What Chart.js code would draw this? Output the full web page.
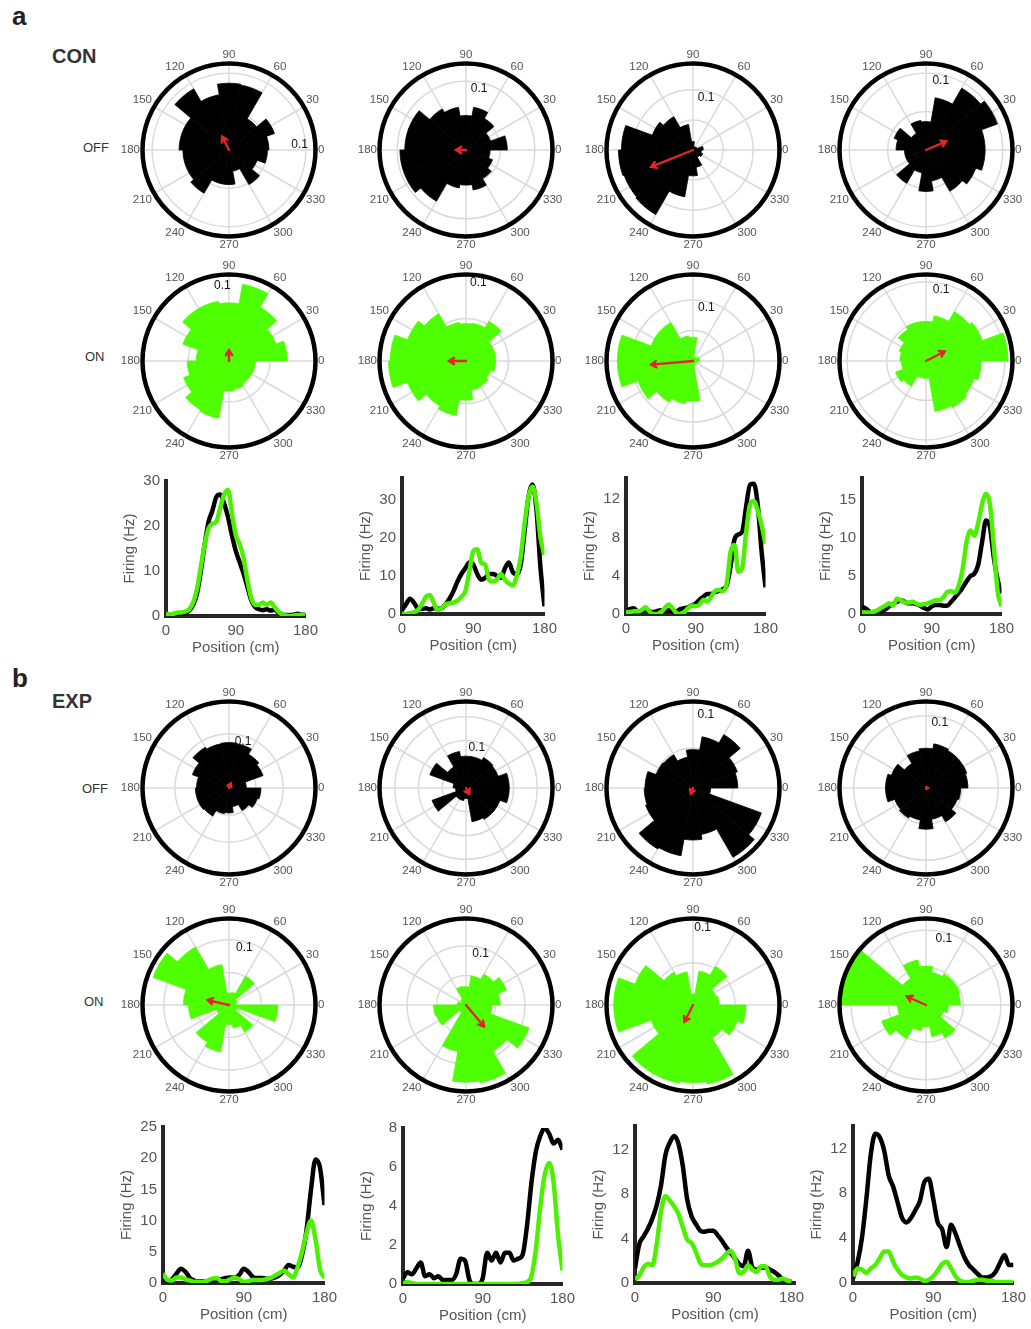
<!DOCTYPE html>
<html>
<head>
<meta charset="utf-8">
<script src="https://cdn.jsdelivr.net/npm/chart.js@4.4.1/dist/chart.umd.min.js"></script>
<style>
  html, body { margin: 0; padding: 0; background: #fff; }
  #fig { position: relative; width: 1031px; height: 1329px; overflow: hidden; font-family: Arial, "Liberation Sans", sans-serif; }
  #fig canvas { position: absolute; }
  .lbl { position: absolute; white-space: nowrap; line-height: 1; }
  .panel { font-weight: bold; font-size: 26px; color: #222; }
  .group { font-weight: bold; font-size: 20px; color: #333; }
  .cond { font-size: 13px; color: #333; }
</style>
</head>
<body>
<div id="fig">
  <div class="lbl panel" style="left:12px; top:3px;">a</div>
  <div class="lbl group" style="left:52px; top:46px;">CON</div>
  <div class="lbl cond" style="left:83px; top:141px;">OFF</div>
  <div class="lbl cond" style="left:85px; top:350px;">ON</div>
  <div class="lbl panel" style="left:12px; top:665px;">b</div>
  <div class="lbl group" style="left:52px; top:691px;">EXP</div>
  <div class="lbl cond" style="left:82px; top:782px;">OFF</div>
  <div class="lbl cond" style="left:84px; top:995px;">ON</div>
</div>
<script>
  // ---- direction histograms: 18 bins of 20 deg, anticlockwise from 0 deg ----
  const angleTicks = [0, 30, 60, 90, 120, 150, 180, 210, 240, 270, 300, 330];

  const conOffRose1 = [0.052, 0.063, 0.047, 0.086, 0.087, 0.073, 0.092, 0.065, 0.065, 0.060, 0.060, 0.065, 0.045, 0.045, 0.028, 0.052, 0.039, 0.050];
  const conOffRose2 = [0.060, 0.038, 0.053, 0.063, 0.050, 0.063, 0.069, 0.089, 0.089, 0.096, 0.096, 0.086, 0.056, 0.051, 0.059, 0.048, 0.041, 0.035];
  const conOffRose3 = [0.017, 0.007, 0.006, 0.006, 0.014, 0.043, 0.064, 0.072, 0.119, 0.124, 0.122, 0.124, 0.079, 0.043, 0.029, 0.014, 0.017, 0.014];
  const conOffRose4 = [0.077, 0.099, 0.093, 0.069, 0.037, 0.039, 0.025, 0.044, 0.039, 0.028, 0.028, 0.050, 0.030, 0.054, 0.041, 0.062, 0.069, 0.077];

  const conOnRose1 = [0.071, 0.061, 0.076, 0.095, 0.071, 0.074, 0.074, 0.060, 0.040, 0.051, 0.059, 0.069, 0.071, 0.037, 0.035, 0.032, 0.032, 0.032];
  const conOnRose2 = [0.035, 0.035, 0.054, 0.045, 0.044, 0.046, 0.064, 0.073, 0.089, 0.091, 0.073, 0.061, 0.065, 0.046, 0.035, 0.034, 0.031, 0.035];
  const conOnRose3 = [0.011, 0.011, 0.007, 0.007, 0.039, 0.042, 0.073, 0.073, 0.124, 0.124, 0.096, 0.078, 0.071, 0.066, 0.007, 0.004, 0.004, 0.007];
  const conOnRose4 = [0.104, 0.076, 0.072, 0.058, 0.050, 0.050, 0.046, 0.036, 0.033, 0.031, 0.041, 0.037, 0.022, 0.022, 0.065, 0.068, 0.065, 0.070];

  const expOffRose1 = [0.032, 0.067, 0.072, 0.083, 0.084, 0.083, 0.087, 0.072, 0.060, 0.062, 0.062, 0.060, 0.048, 0.046, 0.035, 0.048, 0.056, 0.059];
  const expOffRose2 = [0.091, 0.072, 0.074, 0.067, 0.067, 0.078, 0.051, 0.081, 0.027, 0.022, 0.076, 0.027, 0.027, 0.022, 0.072, 0.076, 0.076, 0.091];
  const expOffRose3 = [0.056, 0.059, 0.077, 0.065, 0.048, 0.039, 0.048, 0.049, 0.060, 0.061, 0.063, 0.088, 0.086, 0.065, 0.059, 0.100, 0.091, 0.022];
  const expOffRose4 = [0.058, 0.060, 0.060, 0.062, 0.055, 0.052, 0.039, 0.051, 0.056, 0.056, 0.046, 0.048, 0.045, 0.057, 0.044, 0.054, 0.046, 0.048];

  const expOnRose1 = [0.011, 0.013, 0.051, 0.020, 0.018, 0.063, 0.103, 0.124, 0.070, 0.062, 0.020, 0.066, 0.073, 0.030, 0.036, 0.048, 0.013, 0.075];
  const expOnRose2 = [0.058, 0.073, 0.061, 0.050, 0.031, 0.032, 0.012, 0.009, 0.015, 0.055, 0.053, 0.015, 0.080, 0.131, 0.134, 0.091, 0.114, 0.044];
  const expOnRose3 = [0.031, 0.029, 0.053, 0.041, 0.013, 0.040, 0.045, 0.073, 0.094, 0.094, 0.053, 0.094, 0.094, 0.092, 0.095, 0.045, 0.056, 0.063];
  const expOnRose4 = [0.046, 0.048, 0.048, 0.044, 0.052, 0.061, 0.041, 0.113, 0.113, 0.038, 0.063, 0.052, 0.035, 0.029, 0.043, 0.051, 0.025, 0.030];

  // outer radius of each rose (r-axis limit)
  const conOffMax = [0.112, 0.125, 0.143, 0.112];
  const conOnMax = [0.105, 0.101, 0.141, 0.109];
  const expOffMax = [0.159, 0.181, 0.1075, 0.119];
  const expOnMax = [0.132, 0.146, 0.102, 0.115];

  // mean vector (red arrow): direction in deg, length in r units
  const conOffMeanDeg = [117, 180, 202, 23];
  const conOffMeanLen = [0.0195, 0.0145, 0.075, 0.0287];
  const conOnMeanDeg = [90, 180, 185, 27];
  const conOnMeanLen = [0.0134, 0.020, 0.069, 0.0266];
  const expOffMeanDeg = [70, 300, 250, 0];
  const expOffMeanLen = [0.0092, 0.0147, 0.0075, 0.0028];
  const expOnMeanDeg = [167, 310, 243, 156];
  const expOnMeanLen = [0.0338, 0.0475, 0.0225, 0.028];

  // where the "0.1" r-tick label sits
  const conOffLabelDeg = [4, 78, 76, 78];
  const conOnLabelDeg = [95, 81, 76, 78];
  const expOffLabelDeg = [73, 75, 80, 78];
  const expOnLabelDeg = [75, 74, 83, 75];

  // ---- firing rate along the track ----
  const positions = [0, 5, 10, 15, 20, 25, 30, 35, 40, 45, 50, 55, 60, 65, 70, 75, 80, 85, 90, 95, 100, 105, 110, 115, 120, 125, 130, 135, 140, 145, 150, 155, 160, 165, 170, 175, 180];
  const positionTicks = [0, 90, 180];

  const conOffRate1 = [0.2, 0.2, 0.3, 0.3, 0.4, 0.6, 1.2, 2.5, 5, 10, 16, 21, 23.5, 26.5, 27, 25, 22, 18, 14.5, 12, 9.5, 6.5, 3.5, 2, 1.5, 1.3, 1.5, 1.2, 1.4, 0.8, 0.3, 0.2, 0.2, 0.3, 0.5, 0.3, 0.3];
  const conOnRate1 = [0.5, 0.3, 0.5, 0.8, 0.8, 1, 1.5, 3, 6, 11, 16, 19.5, 20.5, 21, 24, 27, 28, 23, 18, 16, 13, 8, 4, 2.5, 2.5, 3, 2.5, 3, 2, 1, 0.3, 0.1, 0, 0.1, 0.2, 0.3, 0.2];
  const conOffRate2 = [1, 2.5, 4, 3, 1.5, 1.3, 1.5, 1.2, 1.5, 1.3, 1.5, 2.5, 4, 6, 8.5, 10.5, 12, 13.5, 13, 10.5, 9, 9.5, 10.5, 10.5, 10, 9.5, 12, 13.5, 11, 10.5, 13, 22, 31, 34, 27, 12, 2];
  const conOnRate2 = [0, 0, 0.2, 0.5, 1, 2.5, 4.5, 5, 3, 1, 1.5, 2.5, 2.8, 3, 3.5, 4.5, 6, 11, 16.5, 17, 13.5, 13, 9, 8.5, 9, 10.5, 9, 8, 7.5, 10, 15, 24, 31, 33.5, 29, 20, 15.5];
  const conOffRate3 = [0.3, 0.5, 0.6, 0.3, 0.3, 0.4, 0.3, 0.2, 0.3, 0.4, 0.3, 0.4, 0.3, 0.3, 0.5, 0.6, 0.7, 0.9, 1.1, 1.5, 1.8, 2.1, 2.1, 2.3, 2.4, 2.6, 3, 5, 7.8, 8.3, 8.6, 11.2, 13.5, 13.6, 11.4, 6.5, 2.8];
  const conOnRate3 = [0.2, 0.2, 0.3, 0.3, 0.4, 0.7, 0.3, 0, 0, 0.2, 0.6, 1, 0.6, 0.1, 0, 0.2, 0.6, 0.9, 0.8, 1, 1.5, 1.3, 1.8, 2.4, 2.5, 2.4, 3.2, 6.5, 7.2, 4.4, 4.8, 8.5, 11.4, 11.8, 10.8, 9.3, 7.3];
  const conOffRate4 = [1, 0.7, 0.3, 0.2, 0.2, 0.3, 0.6, 1, 1.3, 1.6, 1.8, 1.6, 1.4, 1.4, 1.3, 1.1, 0.8, 0.6, 1, 1.2, 1.2, 1.1, 1.1, 1.6, 2.2, 2.8, 3.5, 4.3, 5, 5.3, 6.5, 9.5, 12.3, 11.5, 7.5, 4.5, 2.7];
  const conOnRate4 = [0.2, 0.2, 0.2, 0.3, 0.5, 0.8, 1.1, 1.4, 1.1, 2, 1.8, 1.5, 1.5, 1.6, 1.4, 1.2, 1.3, 1.4, 1.6, 1.8, 1.8, 2.2, 2.9, 3, 2.8, 3.8, 6, 9.5, 11, 10.3, 12, 14.5, 15.8, 14.5, 9, 3, 1];

  const expOffRate1 = [0.5, 0.4, 0.6, 1.5, 2.3, 1.8, 0.8, 0.4, 0.3, 0.3, 0.3, 0.4, 0.5, 0.6, 0.8, 0.9, 0.9, 1.3, 2.3, 1.8, 1, 0.8, 0.8, 0.7, 0.7, 0.9, 1.3, 2, 2.9, 2.6, 2.5, 4.5, 8.5, 15, 19.8, 18.5, 12.5];
  const expOnRate1 = [1.5, 0.5, 0.4, 0.9, 0.9, 0.6, 0.4, 0.2, 0.2, 0.2, 0.4, 0.7, 0.8, 0.3, 0.3, 0.6, 0.9, 0.6, 0.2, 0.3, 0.5, 0.5, 0.5, 0.6, 0.8, 1.2, 1.6, 2, 1.4, 0.9, 2.5, 5, 8, 10, 7, 2.2, 0.8];
  const expOffRate2 = [0.3, 0.6, 0.5, 0.8, 1.1, 0.4, 0.5, 0.3, 0.4, 0.2, 0.2, 0.2, 0.5, 1.3, 1.2, 0.2, 0, 0, 0.3, 1.6, 1.2, 1.6, 1.1, 1.6, 1.6, 1.2, 1.3, 1.5, 3, 5.2, 6.8, 7.6, 8, 7.7, 7.2, 7.4, 6.9];
  const expOnRate2 = [0, 0.1, 0.05, 0, 0, 0, 0, 0, 0, 0, 0, 0, 0, 0, 0, 0, 0, 0, 0, 0, 0, 0, 0, 0, 0, 0, 0, 0.05, 0.1, 0.4, 1.8, 4, 5.6, 6.2, 5.2, 2.5, 0.7];
  const expOffRate3 = [1.3, 3.5, 4.2, 4.9, 5.8, 7, 8.8, 11.5, 12.6, 13.2, 12.5, 10.5, 7.5, 6, 5.3, 4.7, 4.6, 4.7, 4.7, 4.3, 3.8, 3.2, 2.7, 2.2, 1.7, 1.5, 2.9, 1.4, 1.2, 1.4, 1.4, 1.2, 1, 0.7, 0.3, 0.2, 0.1];
  const expOnRate3 = [0.3, 0.7, 1.4, 1.7, 1.6, 3.5, 6.5, 7.8, 7.4, 6.9, 6.2, 5, 3.9, 3.6, 2.8, 1.8, 1.6, 1.6, 1.7, 1.9, 2.2, 2.6, 2.9, 2.2, 0.9, 1, 1.6, 1.2, 1, 1.5, 1.5, 0.6, 0.3, 0.3, 0.4, 0.2, 0.1];
  const expOffRate4 = [0.4, 1.8, 4, 7.5, 11.5, 13.3, 13, 11.8, 9.6, 8.6, 7.2, 5.8, 5.4, 5.8, 6.5, 7.3, 9, 9.3, 7.5, 5.4, 4.8, 3.2, 5.2, 4.4, 3.3, 2.3, 1.6, 1.2, 0.8, 0.5, 0.5, 0.6, 1, 1.8, 2.5, 1.6, 1.6];
  const expOnRate4 = [0.6, 1.3, 1.2, 0.9, 1.3, 1.6, 2.2, 2.8, 2.8, 1.9, 1.2, 0.7, 0.5, 0.4, 0.5, 0.4, 0.2, 0.3, 0.6, 1.1, 1.7, 1.9, 1.3, 0.6, 0.2, 0.1, 0.1, 0.2, 0.3, 0.3, 0.2, 0.2, 0.1, 0.1, 0.1, 0.1, 0.1];

  const conRateMax = [30, 35.7, 14.2, 17.9];
  const expRateMax = [25, 8, 14.1, 14];
  const conRateTicks = [[0, 10, 20, 30], [0, 10, 20, 30], [0, 4, 8, 12], [0, 5, 10, 15]];
  const expRateTicks = [[0, 5, 10, 15, 20, 25], [0, 2, 4, 6, 8], [0, 4, 8, 12], [0, 4, 8, 12]];

  // ---- layout ----
  const GREEN = '#4dff00';
  const LINE_GREEN = '#4cf000';
  const RADIUS = 86;
  const colX = [229, 466, 693, 926];
  const conRateBoxes = [
    { left: 166, top: 476, width: 142, height: 140, xMax: 180 },
    { left: 402, top: 473, width: 145, height: 141, xMax: 180 },
    { left: 626, top: 473, width: 142, height: 141, xMax: 180 },
    { left: 862, top: 473, width: 142, height: 141, xMax: 180 },
  ];
  const expRateBoxes = [
    { left: 163, top: 1122, width: 164, height: 161, xMax: 180 },
    { left: 403, top: 1123, width: 162, height: 161, xMax: 180 },
    { left: 635, top: 1121, width: 160, height: 162, xMax: 184 },
    { left: 853, top: 1121, width: 163, height: 162, xMax: 180 },
  ];

  Chart.defaults.font.family = 'Arial, "Liberation Sans", sans-serif';

  const fig = document.getElementById('fig');

  function addCanvas(left, top, width, height) {
    const canvas = document.createElement('canvas');
    canvas.width = width;
    canvas.height = height;
    canvas.style.left = left + 'px';
    canvas.style.top = top + 'px';
    canvas.style.width = width + 'px';
    canvas.style.height = height + 'px';
    fig.appendChild(canvas);
    return canvas;
  }

  // chart.js sweeps clockwise from the top; the bins run anticlockwise from 0 deg
  function toChartOrder(bins) {
    return bins.map((_, j) => bins[(bins.length - j) % bins.length]);
  }

  function rad(deg) {
    return (deg * Math.PI) / 180;
  }

  const roseDecor = {
    id: 'roseDecor',
    beforeDatasetsDraw(chart) {
      const s = chart.scales.r;
      const ctx = chart.ctx;
      ctx.save();
      ctx.strokeStyle = '#dadada';
      ctx.lineWidth = 1.5;
      angleTicks.forEach((a) => {
        ctx.beginPath();
        ctx.moveTo(s.xCenter, s.yCenter);
        ctx.lineTo(s.xCenter + s.drawingArea * Math.cos(rad(a)), s.yCenter - s.drawingArea * Math.sin(rad(a)));
        ctx.stroke();
      });
      ctx.restore();
    },
    afterDatasetsDraw(chart, args, opts) {
      const s = chart.scales.r;
      const ctx = chart.ctx;
      const cx = s.xCenter;
      const cy = s.yCenter;
      const R = s.drawingArea;
      ctx.save();

      // theta tick labels
      ctx.fillStyle = '#555';
      ctx.font = '11.5px Arial, "Liberation Sans", sans-serif';
      angleTicks.forEach((a) => {
        const c = Math.cos(rad(a));
        const sn = Math.sin(rad(a));
        ctx.textAlign = c > 0.3 ? 'left' : c < -0.3 ? 'right' : 'center';
        ctx.textBaseline = sn > 0.3 ? 'bottom' : sn < -0.3 ? 'top' : 'middle';
        ctx.fillText(String(a), cx + (R + 3) * c, cy - (R + 3) * sn);
      });

      // outer ring
      ctx.strokeStyle = '#000';
      ctx.lineWidth = 4.5;
      ctx.beginPath();
      ctx.arc(cx, cy, R + 0.5, 0, Math.PI * 2);
      ctx.stroke();

      // r tick label
      const ring = s.getDistanceFromCenterForValue(0.1) - 6;
      ctx.fillStyle = '#111';
      ctx.font = '12px Arial, "Liberation Sans", sans-serif';
      ctx.textAlign = 'center';
      ctx.textBaseline = 'middle';
      ctx.fillText('0.1', cx + ring * Math.cos(rad(opts.labelDeg)), cy - ring * Math.sin(rad(opts.labelDeg)));

      // mean vector
      const len = s.getDistanceFromCenterForValue(opts.meanLen);
      const t = rad(opts.meanDeg);
      const tx = cx + len * Math.cos(t);
      const ty = cy - len * Math.sin(t);
      const back = t + Math.PI;
      const head = Math.min(6, Math.max(2, len * 0.8));
      ctx.strokeStyle = '#e0262b';
      ctx.lineWidth = 2.4;
      ctx.lineCap = 'round';
      ctx.beginPath();
      ctx.moveTo(cx, cy);
      ctx.lineTo(tx, ty);
      ctx.moveTo(tx + head * Math.cos(back + 0.55), ty - head * Math.sin(back + 0.55));
      ctx.lineTo(tx, ty);
      ctx.lineTo(tx + head * Math.cos(back - 0.55), ty - head * Math.sin(back - 0.55));
      ctx.stroke();
      ctx.restore();
    },
  };

  function rosePlot(cx, cy, bins, rMax, fill, meanDeg, meanLen, labelDeg) {
    const size = 240;
    const canvas = addCanvas(cx - size / 2, cy - size / 2, size, size);
    return new Chart(canvas, {
      type: 'polarArea',
      data: {
        labels: bins.map((_, i) => String(i * 20)),
        datasets: [
          {
            data: toChartOrder(bins),
            backgroundColor: fill,
            borderColor: fill,
            borderWidth: 0.8,
          },
        ],
      },
      options: {
        responsive: false,
        animation: false,
        devicePixelRatio: 1,
        layout: { padding: size / 2 - RADIUS },
        plugins: {
          legend: { display: false },
          tooltip: { enabled: false },
          roseDecor: { meanDeg, meanLen, labelDeg },
        },
        scales: {
          r: {
            min: 0,
            max: rMax,
            startAngle: 70,
            ticks: { display: false, stepSize: 0.05 },
            grid: { circular: true, color: '#dadada', lineWidth: 1.5 },
            angleLines: { display: false },
            pointLabels: { display: false },
          },
        },
      },
      plugins: [roseDecor],
    });
  }

  function ratePlot(box, offRate, onRate, yMax, yTicks) {
    const padL = 50, padR = 16, padT = 10, padB = 46;
    const canvas = addCanvas(box.left - padL, box.top - padT, box.width + padL + padR, box.height + padT + padB);
    const toPoints = (arr) => arr.map((v, i) => ({ x: positions[i], y: v }));
    const tickStyle = { color: '#555', font: { size: 15 }, padding: 6, autoSkip: false, maxRotation: 0 };
    const titleStyle = { color: '#555', font: { size: 15 }, padding: { top: 5, bottom: 5 } };
    return new Chart(canvas, {
      type: 'line',
      data: {
        datasets: [
          { label: 'ON', data: toPoints(onRate), borderColor: LINE_GREEN },
          { label: 'OFF', data: toPoints(offRate), borderColor: '#000' },
        ],
      },
      options: {
        responsive: false,
        animation: false,
        devicePixelRatio: 1,
        layout: { padding: { top: padT, right: padR, left: 0, bottom: 0 } },
        elements: {
          point: { radius: 0 },
          line: { borderWidth: 4.5, cubicInterpolationMode: 'monotone', fill: false },
        },
        plugins: { legend: { display: false }, tooltip: { enabled: false } },
        scales: {
          x: {
            type: 'linear',
            min: 0,
            max: box.xMax,
            afterBuildTicks: (sc) => { sc.ticks = positionTicks.map((v) => ({ value: v })); },
            afterFit: (sc) => { sc.height = padB; },
            grid: { display: false, drawTicks: false },
            border: { display: true, color: '#262626', width: 4 },
            ticks: tickStyle,
            title: Object.assign({ display: true, text: 'Position (cm)' }, titleStyle),
          },
          y: {
            min: 0,
            max: yMax,
            afterBuildTicks: (sc) => { sc.ticks = yTicks.map((v) => ({ value: v })); },
            afterFit: (sc) => { sc.width = padL; },
            grid: { display: false, drawTicks: false },
            border: { display: true, color: '#262626', width: 4 },
            ticks: tickStyle,
            title: Object.assign({ display: true, text: 'Firing (Hz)' }, titleStyle),
          },
        },
      },
    });
  }

  const conOffRoses = [conOffRose1, conOffRose2, conOffRose3, conOffRose4];
  const conOnRoses = [conOnRose1, conOnRose2, conOnRose3, conOnRose4];
  const expOffRoses = [expOffRose1, expOffRose2, expOffRose3, expOffRose4];
  const expOnRoses = [expOnRose1, expOnRose2, expOnRose3, expOnRose4];

  colX.forEach((cx, i) => {
    rosePlot(cx, 150, conOffRoses[i], conOffMax[i], '#000', conOffMeanDeg[i], conOffMeanLen[i], conOffLabelDeg[i]);
    rosePlot(cx, 361, conOnRoses[i], conOnMax[i], GREEN, conOnMeanDeg[i], conOnMeanLen[i], conOnLabelDeg[i]);
    rosePlot(cx, 788, expOffRoses[i], expOffMax[i], '#000', expOffMeanDeg[i], expOffMeanLen[i], expOffLabelDeg[i]);
    rosePlot(cx, 1005, expOnRoses[i], expOnMax[i], GREEN, expOnMeanDeg[i], expOnMeanLen[i], expOnLabelDeg[i]);
  });

  const conOffRates = [conOffRate1, conOffRate2, conOffRate3, conOffRate4];
  const conOnRates = [conOnRate1, conOnRate2, conOnRate3, conOnRate4];
  const expOffRates = [expOffRate1, expOffRate2, expOffRate3, expOffRate4];
  const expOnRates = [expOnRate1, expOnRate2, expOnRate3, expOnRate4];

  conRateBoxes.forEach((box, i) => ratePlot(box, conOffRates[i], conOnRates[i], conRateMax[i], conRateTicks[i]));
  expRateBoxes.forEach((box, i) => ratePlot(box, expOffRates[i], expOnRates[i], expRateMax[i], expRateTicks[i]));
</script>
</body>
</html>
